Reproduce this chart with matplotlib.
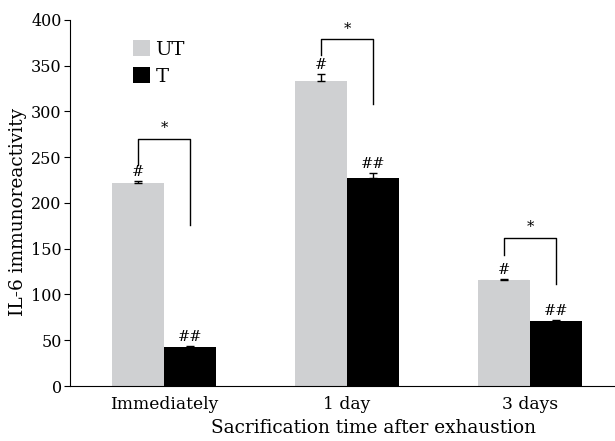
import numpy as np
import matplotlib.pyplot as plt

plt.rcParams['font.family'] = ['DejaVu Serif']

groups = ['Immediately', '1 day', '3 days']
ut_vals = [221.5, 333, 115.8]
ut_err = [2.5, 8.5, 1.0]
t_vals = [42.3, 227.3, 71]
t_err = [1.4, 5.2, 1.1]
ut_marks = ['#', '#', '#']
t_marks = ['##', '##', '##']
# brackets: (left bottom, top, right bottom)
brackets = [(241, 270, 176), (362, 379, 308), (143, 162, 111)]

fig = plt.figure(figsize=(6.15, 4.41), dpi=100)
ax = fig.add_axes([0.1138, 0.1247, 0.8862, 0.83])

x = np.arange(len(groups))
w = 0.284
ax.bar(x - w / 2, ut_vals, w, color='#cfd0d2', label='UT')
ax.bar(x + w / 2, t_vals, w, color='black', label='T')
ax.errorbar(x - w / 2, ut_vals, yerr=[np.zeros(3), ut_err], fmt='none',
            ecolor='black', elinewidth=1, capsize=3, capthick=1)
ax.errorbar(x + w / 2, t_vals, yerr=[np.zeros(3), t_err], fmt='none',
            ecolor='black', elinewidth=1, capsize=3, capthick=1)

for i in range(len(groups)):
    ax.text(x[i] - w / 2, ut_vals[i] + ut_err[i] + 2, ut_marks[i], ha='center',
            va='bottom', fontsize=10.5)
    ax.text(x[i] + w / 2, t_vals[i] + t_err[i] + 2, t_marks[i], ha='center',
            va='bottom', fontsize=10.5)
    lb, top, rb = brackets[i]
    xl = x[i] - w / 2
    xr = x[i] + w / 2
    ax.plot([xl, xl, xr, xr], [lb, top, top, rb], color='black', lw=1)
    ax.text((xl + xr) / 2, top + 4, '*', ha='center', va='bottom', fontsize=10.5)

ax.set_xlim(-0.514, 2.464)
ax.set_ylim(0, 400)
ax.set_yticks(np.arange(0, 401, 50))
ax.set_xticks(x)
ax.set_xticklabels(groups, fontsize=12.3)
ax.tick_params(axis='x', length=0, pad=7)
ax.tick_params(axis='y', labelsize=11.5, length=4, direction='out', pad=2)
ax.spines['top'].set_visible(False)
ax.spines['right'].set_visible(False)
ax.set_ylabel('IL-6 immunoreactivity', fontsize=13.3)
ax.yaxis.set_label_coords(-0.079, 0.475)
ax.set_xlabel('Sacrification time after exhaustion', fontsize=13.3)
ax.xaxis.set_label_coords(0.556, -0.09)

ax.legend(loc='upper left', bbox_to_anchor=(0.1156, 0.945), frameon=False,
          fontsize=14, handlelength=0.85, handleheight=0.85, handletextpad=0.3,
          labelspacing=0.45, borderpad=0, borderaxespad=0)

fig.savefig('out.png', dpi=100)
